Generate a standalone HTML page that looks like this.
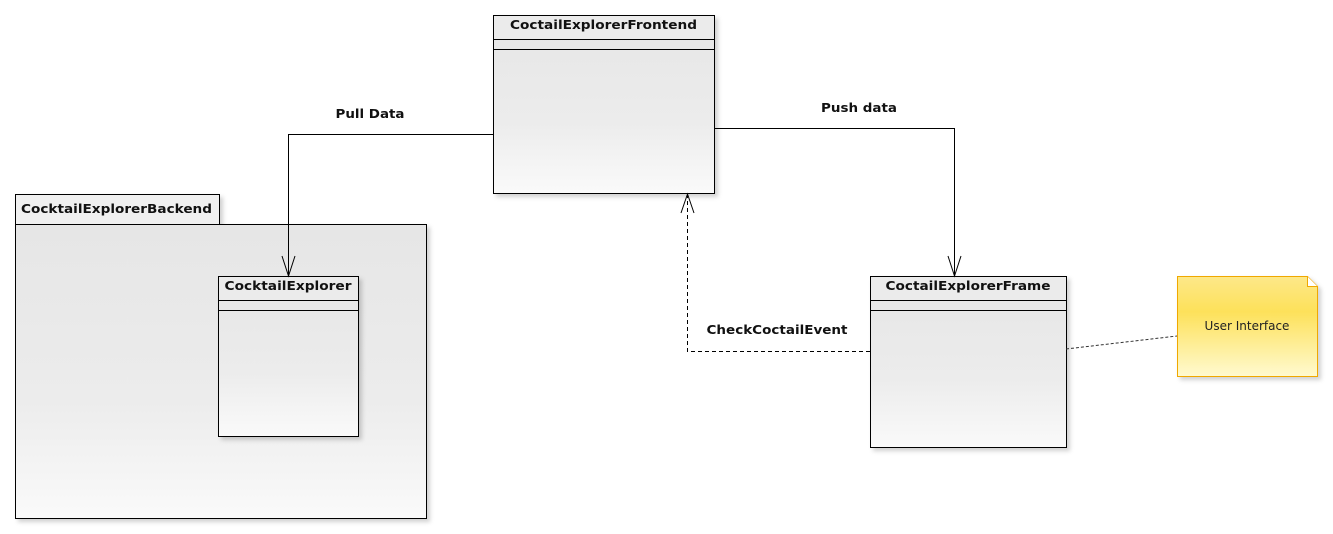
<!DOCTYPE html>
<html><head><meta charset="utf-8"><style>
html,body{margin:0;padding:0;background:#fff;}
svg{display:block;}
text{font-family:"DejaVu Sans","Liberation Sans",sans-serif;}
.b{font-weight:bold;font-size:12.5px;fill:#111;}
</style></head><body>
<svg width="1333" height="534" viewBox="0 0 1333 534" xmlns="http://www.w3.org/2000/svg">
<defs>
<linearGradient id="g" x1="0" y1="0" x2="0" y2="1">
<stop offset="0" stop-color="#e6e6e6"/><stop offset="0.6" stop-color="#ececec"/><stop offset="1" stop-color="#fafafa"/>
</linearGradient>
<linearGradient id="y" x1="0" y1="0" x2="0" y2="1">
<stop offset="0" stop-color="#fde889"/><stop offset="0.35" stop-color="#fde15a"/><stop offset="1" stop-color="#fffad0"/>
</linearGradient>
<filter id="s" x="-5%" y="-5%" width="115%" height="115%"><feDropShadow dx="3" dy="3" stdDeviation="2" flood-color="#000" flood-opacity="0.18"/></filter>
</defs>

<g filter="url(#s)">
<rect x="15.5" y="194.5" width="204" height="30" fill="#f0f0f0" stroke="#000"/>
<rect x="15.5" y="224.5" width="411" height="294" fill="url(#g)" stroke="#000"/>
</g>
<text class="b" x="21" y="213" textLength="191" lengthAdjust="spacingAndGlyphs">CocktailExplorerBackend</text>

<g filter="url(#s)">
<rect x="218.5" y="276.5" width="140" height="160" fill="url(#g)" stroke="#000"/>
</g>
<rect x="219" y="277" width="139" height="23" fill="#ebebeb"/>
<line x1="218" y1="300.5" x2="358" y2="300.5" stroke="#000"/>
<line x1="218" y1="310.5" x2="358" y2="310.5" stroke="#000"/>
<text class="b" x="288" y="290" text-anchor="middle" textLength="127" lengthAdjust="spacingAndGlyphs">CocktailExplorer</text>

<g filter="url(#s)">
<rect x="493.5" y="15.5" width="221" height="178" fill="url(#g)" stroke="#000"/>
</g>
<rect x="494" y="16" width="220" height="23" fill="#ebebeb"/>
<line x1="493" y1="39.5" x2="714" y2="39.5" stroke="#000"/>
<line x1="493" y1="49.5" x2="714" y2="49.5" stroke="#000"/>
<text class="b" x="603.5" y="29" text-anchor="middle" textLength="187" lengthAdjust="spacingAndGlyphs">CoctailExplorerFrontend</text>

<g filter="url(#s)">
<rect x="870.5" y="276.5" width="196" height="171" fill="url(#g)" stroke="#000"/>
</g>
<rect x="871" y="277" width="195" height="23" fill="#ebebeb"/>
<line x1="870" y1="300.5" x2="1066" y2="300.5" stroke="#000"/>
<line x1="870" y1="310.5" x2="1066" y2="310.5" stroke="#000"/>
<text class="b" x="968" y="290" text-anchor="middle" textLength="165" lengthAdjust="spacingAndGlyphs">CoctailExplorerFrame</text>

<g filter="url(#s)">
<path d="M1177.5,276.5 H1307.5 L1317.5,286.5 V376.5 H1177.5 Z" fill="url(#y)" stroke="#f0a800"/>
</g>
<path d="M1307.5,276.5 V286.5 H1317.5" fill="#fff" stroke="#f0a800"/>
<text x="1247" y="330" text-anchor="middle" font-size="12" fill="#222">User Interface</text>

<polyline points="493,134.5 288.5,134.5 288.5,276" fill="none" stroke="#000"/>
<polyline points="282,256 288.5,276 295,256" fill="none" stroke="#000"/>
<text class="b" x="370" y="118" text-anchor="middle" textLength="69" lengthAdjust="spacingAndGlyphs">Pull Data</text>

<polyline points="714,128.5 954.5,128.5 954.5,276" fill="none" stroke="#000"/>
<polyline points="948,256 954.5,276 961,256" fill="none" stroke="#000"/>
<text class="b" x="859" y="112" text-anchor="middle" textLength="76" lengthAdjust="spacingAndGlyphs">Push data</text>

<polyline points="870,351.5 687.5,351.5 687.5,194" fill="none" stroke="#000" stroke-dasharray="4,3"/>
<polyline points="681,213 687.5,194 694,213" fill="none" stroke="#000"/>
<text class="b" x="777" y="334" text-anchor="middle" textLength="141" lengthAdjust="spacingAndGlyphs">CheckCoctailEvent</text>

<line x1="1066" y1="349" x2="1177" y2="336" stroke="#333" stroke-dasharray="3,2"/>
</svg>
</body></html>
